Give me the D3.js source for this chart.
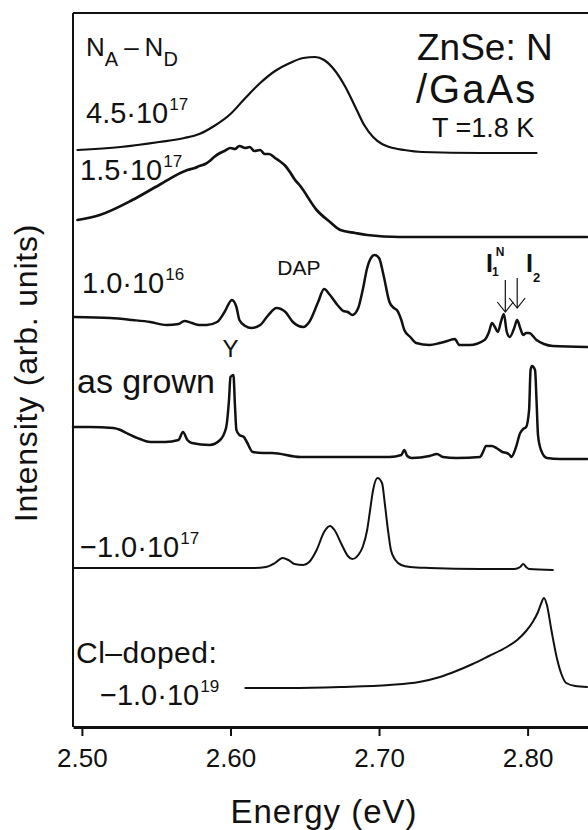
<!DOCTYPE html>
<html><head><meta charset="utf-8">
<script src="https://cdn.jsdelivr.net/npm/d3@7"></script>
<style>
body{margin:0;background:#fff}
svg{display:block}
text{font-family:"Liberation Sans",Arial,Helvetica,sans-serif;fill:#111}
</style>
</head><body>
<svg id="c" width="588" height="830"></svg>
<script>
// ---- data (energy in eV, intensity in stacked arb. units) ----
const tickValues = [2.50, 2.60, 2.70, 2.80];

const e1 = [2.497,2.526,2.552,2.569,2.579,2.589,2.600,2.610,2.620,2.630,2.640,2.649,2.657,2.663,2.670,2.677,2.685,2.690,2.696,2.702,2.707,2.717,2.729,2.768,2.806];
const v1 = [57.7,58.0,58.5,58.9,59.3,60.1,61.3,62.9,64.4,65.6,66.4,66.9,67.0,66.7,65.7,64.1,61.7,60.2,59.0,58.3,58.0,57.7,57.5,57.4,57.4];

const e2 = [2.497,2.512,2.534,2.552,2.571,2.576,2.579,2.583,2.586,2.589,2.593,2.596,2.600,2.603,2.606,2.610,2.613,2.616,2.620,2.623,2.626,2.630,2.633,2.637,2.640,2.643,2.647,2.658,2.667,2.674,2.684,2.692,2.714,2.781,2.840];
const v2 = [50.7,51.2,52.7,54.2,55.7,55.9,56.1,56.3,56.6,57.0,57.4,57.6,57.9,57.8,58.1,57.9,58.0,57.6,57.7,57.3,57.3,56.9,56.6,56.1,55.5,54.8,54.1,51.7,50.5,49.7,49.4,49.2,49.0,49.0,49.0];

const e3 = [2.495,2.519,2.534,2.546,2.557,2.565,2.569,2.574,2.579,2.584,2.591,2.596,2.601,2.604,2.606,2.610,2.614,2.620,2.625,2.631,2.637,2.642,2.649,2.653,2.659,2.663,2.667,2.672,2.676,2.679,2.682,2.686,2.689,2.692,2.695,2.697,2.700,2.703,2.707,2.710,2.712,2.715,2.717,2.721,2.725,2.734,2.741,2.746,2.751,2.754,2.761,2.771,2.774,2.776,2.778,2.780,2.782,2.784,2.786,2.788,2.791,2.793,2.795,2.797,2.799,2.801,2.806,2.811,2.817,2.840];
const v3 = [41.0,40.9,40.7,40.5,40.2,40.3,40.6,40.4,40.2,40.2,40.5,41.5,42.7,42.0,40.7,40.1,39.9,40.2,41.1,41.9,41.5,40.5,40.0,40.5,42.5,43.8,43.2,42.2,41.6,41.5,41.2,41.9,43.7,45.9,47.0,47.2,46.9,45.2,42.5,41.9,41.7,40.7,39.7,39.0,38.4,38.2,38.4,38.6,38.8,38.2,38.2,38.7,39.5,40.4,40.0,39.5,40.5,41.3,39.5,39.0,39.9,40.7,39.9,39.2,39.4,39.4,38.7,38.3,38.1,38.0];

const e4 = [2.494,2.505,2.521,2.526,2.530,2.539,2.546,2.556,2.565,2.568,2.571,2.574,2.586,2.593,2.597,2.599,2.600,2.602,2.603,2.604,2.606,2.609,2.611,2.615,2.622,2.628,2.647,2.707,2.715,2.717,2.719,2.722,2.734,2.739,2.743,2.752,2.768,2.770,2.772,2.776,2.779,2.783,2.786,2.788,2.789,2.792,2.795,2.797,2.799,2.801,2.802,2.803,2.805,2.806,2.807,2.809,2.813,2.822,2.840];
const v4 = [30.0,30.0,29.9,29.7,29.4,28.8,28.5,28.5,28.7,29.5,28.7,28.4,28.2,28.7,29.9,32.7,35.0,35.2,32.2,29.7,29.2,29.0,28.5,27.5,27.4,27.4,27.0,27.0,27.2,27.7,27.1,26.9,27.1,27.3,27.0,26.9,27.0,27.5,28.1,28.1,27.9,27.5,27.4,27.2,27.0,27.9,29.4,29.8,30.0,31.7,35.7,36.1,35.7,32.7,29.2,27.7,26.9,26.8,26.8];

const e5 = [2.494,2.546,2.602,2.616,2.624,2.630,2.635,2.639,2.643,2.649,2.653,2.658,2.663,2.667,2.670,2.675,2.679,2.682,2.686,2.689,2.692,2.694,2.696,2.699,2.702,2.704,2.706,2.708,2.711,2.715,2.721,2.734,2.768,2.791,2.795,2.797,2.799,2.801,2.817];
const v5 = [15.9,15.9,15.9,15.9,16.0,16.4,16.9,16.7,16.3,16.2,16.5,17.7,19.5,20.1,19.7,18.2,17.1,16.8,17.2,18.0,19.7,21.7,23.7,24.9,24.4,22.2,19.7,17.7,16.7,16.2,16.0,15.9,15.8,15.8,16.0,16.3,16.0,15.8,15.7];

const e6 = [2.610,2.640,2.674,2.707,2.727,2.741,2.752,2.763,2.774,2.786,2.793,2.799,2.803,2.807,2.809,2.811,2.813,2.816,2.820,2.823,2.826,2.832,2.840];
const v6 = [3.9,3.9,4.0,4.2,4.5,5.0,5.6,6.3,7.1,8.0,8.7,9.6,10.4,11.5,12.3,12.9,12.2,9.7,6.7,5.2,4.4,4.1,4.0];

const seriesE = [e1,e2,e3,e4,e5,e6];
const seriesV = [v1,v2,v3,v4,v5,v6];
const seriesW = [2.2,2.7,2.5,2.5,2.0,2.0];

const sampleMain = ["4.5·10","1.5·10","1.0·10","as grown","−1.0·10","−1.0·10"];
const sampleExp  = ["17","17","16","","17","19"];

// arrows for I1N and I2 lines (energy, tip value, tail value)
const arrowE = [2.785, 2.793];
const arrowTip = [41.5, 41.9];
const arrowTail = [44.7, 44.9];

// ---- drawing ----
const svg = d3.select("#c");
const x = d3.scaleLinear().domain([2.494, 2.842]).range([73, 590]);
const y = d3.scaleLinear().domain([0, 71.4]).range([727, 13]);

// frame (top + left)
svg.append("line").attr("x1",x(2.494)).attr("x2",588).attr("y1",y(71.4)).attr("y2",y(71.4))
  .attr("stroke","#111").attr("stroke-width",2);
svg.append("line").attr("x1",x(2.494)).attr("x2",x(2.494)).attr("y1",y(71.4)).attr("y2",y(0))
  .attr("stroke","#111").attr("stroke-width",2);

// bottom axis
const ax = svg.append("g").attr("transform",`translate(0,${y(0)})`)
  .call(d3.axisBottom(x).tickValues(tickValues).tickFormat(d3.format(".2f"))
    .tickSizeInner(9).tickSizeOuter(0).tickPadding(13));
ax.select(".domain").attr("stroke","#111").attr("stroke-width",3);
ax.selectAll(".tick line").attr("stroke","#111").attr("stroke-width",2);
ax.selectAll(".tick text").attr("font-size",26).attr("fill","#111")
  .style("font-family",'"Liberation Sans",Arial,sans-serif');

// curves
const line = d3.line().curve(d3.curveMonotoneX);
seriesE.forEach((E,i)=>{
  const pts = E.map((e,j)=>[x(e), y(seriesV[i][j])]);
  svg.append("path").attr("d",line(pts)).attr("fill","none")
    .attr("stroke","#111").attr("stroke-width",seriesW[i])
    .attr("stroke-linejoin","round").attr("stroke-linecap","round");
});

// arrows
arrowE.forEach((e,i)=>{
  const xx = x(e), yt = y(arrowTip[i]), y0 = y(arrowTail[i]);
  svg.append("line").attr("x1",xx).attr("x2",xx).attr("y1",y0).attr("y2",yt)
    .attr("stroke","#111").attr("stroke-width",1.2);
  svg.append("path").attr("d",`M${xx-8},${yt-10}L${xx},${yt}L${xx+8},${yt-10}`)
    .attr("fill","none").attr("stroke","#111").attr("stroke-width",1.2);
});

// axis titles
svg.append("text").attr("x",324).attr("y",823).attr("text-anchor","middle")
  .attr("font-size",33).attr("letter-spacing",1).text("Energy (eV)");
svg.append("text").attr("transform","translate(37,373) rotate(-90)").attr("text-anchor","middle")
  .attr("font-size",32).attr("letter-spacing",0.8).text("Intensity (arb. units)");

// sample labels
const labelPos = [[86,123,29],[80,180,29],[82,293,29],[77,393,34],[80,557,29],[100,705,29]];
sampleMain.forEach((s,i)=>{
  const [lx,ly,fs] = labelPos[i];
  const t = svg.append("text").attr("x",lx).attr("y",ly).attr("font-size",fs);
  t.append("tspan").text(s);
  if (sampleExp[i]) t.append("tspan").attr("font-size",17).attr("dy",-13).attr("dx",1).text(sampleExp[i]);
});
// Cl-doped
svg.append("text").attr("x",76).attr("y",663).attr("font-size",30).attr("letter-spacing",0.5).text("Cl–doped:");

// N_A - N_D
const nd = svg.append("text").attr("x",86).attr("y",56).attr("font-size",26);
nd.append("tspan").text("N");
nd.append("tspan").attr("font-size",20).attr("dy",10).text("A");
nd.append("tspan").attr("dy",-10).attr("dx",6).text("–");
nd.append("tspan").attr("dx",6).text("N");
nd.append("tspan").attr("font-size",20).attr("dy",10).text("D");

// sample title
svg.append("text").attr("x",417).attr("y",60).attr("font-size",37).text("ZnSe: N");
svg.append("text").attr("x",416).attr("y",103).attr("font-size",40).attr("letter-spacing",2).text("/GaAs");
svg.append("text").attr("x",432).attr("y",137).attr("font-size",27).text("T =1.8 K");

// peak labels
svg.append("text").attr("x",x(2.600)).attr("y",357).attr("text-anchor","middle").attr("font-size",24).text("Y");
svg.append("text").attr("x",x(2.646)).attr("y",275).attr("text-anchor","middle").attr("font-size",21).text("DAP");
const i1 = svg.append("text").attr("x",486).attr("y",272).attr("font-size",25).attr("font-weight","bold");
i1.append("tspan").text("I");
i1.append("tspan").attr("font-size",12).attr("dy",4).attr("dx",-1).text("1");
i1.append("tspan").attr("font-size",12).attr("dy",-20).attr("dx",-3).text("N");
const i2 = svg.append("text").attr("x",526).attr("y",272).attr("font-size",25).attr("font-weight","bold");
i2.append("tspan").text("I");
i2.append("tspan").attr("font-size",13).attr("dy",10).attr("dx",0).text("2");
</script>
</body></html>
